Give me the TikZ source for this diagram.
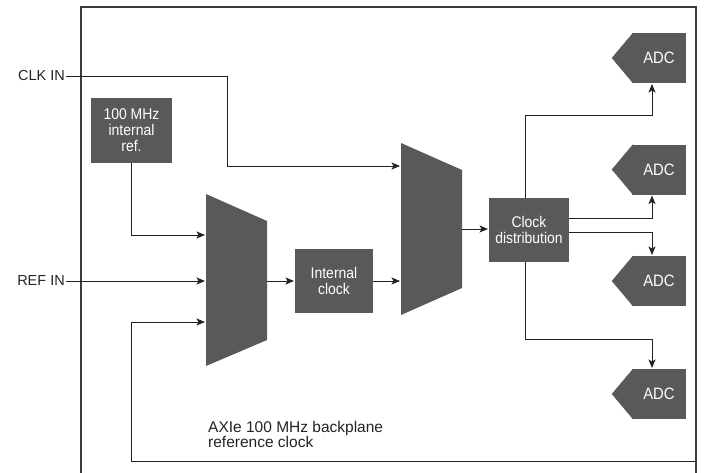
\documentclass[tikz,border=0pt]{standalone}
\usepackage{fontspec}
\setmainfont{Liberation Sans}
\newfontfamily\condfont[FakeStretch=0.9]{Liberation Sans}
\usetikzlibrary{arrows.meta,calc}
\definecolor{boxgray}{RGB}{88,89,91}
\definecolor{linegray}{RGB}{35,35,35}
\definecolor{framegray}{RGB}{60,60,62}
\begin{document}
\begin{tikzpicture}[x=1pt,y=-1pt,
  blk/.style={fill=boxgray, text=white, inner sep=0pt, outer sep=0pt, align=center,
    font=\condfont\fontsize{15.5}{16}\selectfont},
  muxbox/.style={inner sep=0pt, outer sep=0pt, minimum width=61pt, minimum height=172pt},
  adcbody/.style={fill=boxgray, text=white, inner sep=0pt, outer sep=0pt,
    minimum width=54pt, minimum height=50pt, font=\condfont\fontsize{16.5}{17}\selectfont},
  lbl/.style={inner sep=1pt, text=linegray, font=\fontsize{14.5}{16}\selectfont},
  conn/.style={draw=linegray, line width=0.9pt},
  arr/.style={conn, -{Stealth[length=8.5pt,width=7pt,inset=2pt]}, shorten >=1pt}]
\useasboundingbox (0,0) rectangle (705,472);
\clip (0,0) rectangle (705,472);

% outer frame
\draw[line width=1.2pt, draw=framegray] (81,480) -- (81,7) -- (696,7) -- (696,480);

% labels
\node[lbl, anchor=east] (clk) at (66,76) {CLK IN};
\node[lbl, anchor=east] (ref) at (66,281) {REF IN};

% blocks
\node[blk, minimum width=81pt, minimum height=65pt] (iref) at (131.5,130.5) {100 MHz\\internal\\ref.};
\node[blk, minimum width=78pt, minimum height=64pt] (iclk) at (334,281) {Internal\\clock};
\node[blk, minimum width=80pt, minimum height=64pt] (cd) at (529,230) {Clock\\distribution};

% multiplexers
\node[muxbox] (m1) at (236.5,280) {};
\fill[boxgray] (m1.north west) -- ($(m1.north east)+(0,27)$) -- ($(m1.south east)+(0,-26)$) -- (m1.south west) -- cycle;
\node[muxbox] (m2) at (431.5,229) {};
\fill[boxgray] (m2.north west) -- ($(m2.north east)+(0,27)$) -- ($(m2.south east)+(0,-27)$) -- (m2.south west) -- cycle;

% ADCs
\foreach \n/\y in {a1/58, a2/169.5, a3/281, a4/394}{
  \node[adcbody] (\n) at (659,\y) {ADC};
  \filldraw[boxgray, line width=0.3pt] ($(\n.north west)+(1,0)$) -- ($(\n.west)+(-20,0)$) -- ($(\n.south west)+(1,0)$) -- cycle;
}

% note
\node[anchor=north west, inner sep=0pt, align=left, text=linegray,
  font=\fontsize{15.5}{15.5}\selectfont] (note) at (208,421) {AXIe 100 MHz backplane\\reference clock};

% connectors
\coordinate (cbend) at (227,166);
\draw[arr] (clk.east) -| (cbend) -- (cbend -| m2.west);

\coordinate (m1in1) at (206,235);
\draw[arr] (iref.south) |- (m1in1);
\draw[arr] (ref.east) -- (ref.east -| m1.west);

\coordinate (bp) at (696,461);
\coordinate (fbturn) at (131,322);
\draw[arr] (bp) -| (fbturn) -- (fbturn -| m1.west);

\draw[arr] (m1.east |- iclk.west) -- (iclk.west);
\draw[arr] (iclk.east) -- (iclk.east -| m2.west);
\draw[arr] (m2.east) -- (m2.east -| cd.west);

\coordinate (t1) at (652,115);
\coordinate (t4) at (652,339);
\draw[arr] ([xshift=-4pt]cd.north) |- (t1) -- (t1 |- a1.south);
\draw[arr] ([yshift=12pt]cd.east) -| (t1 |- a2.south);
\draw[arr] ([yshift=-2pt]cd.east) -| (t1 |- a3.north);
\draw[arr] ([xshift=-4pt]cd.south) |- (t4) -- (t4 |- a4.north);
\end{tikzpicture}
\end{document}
